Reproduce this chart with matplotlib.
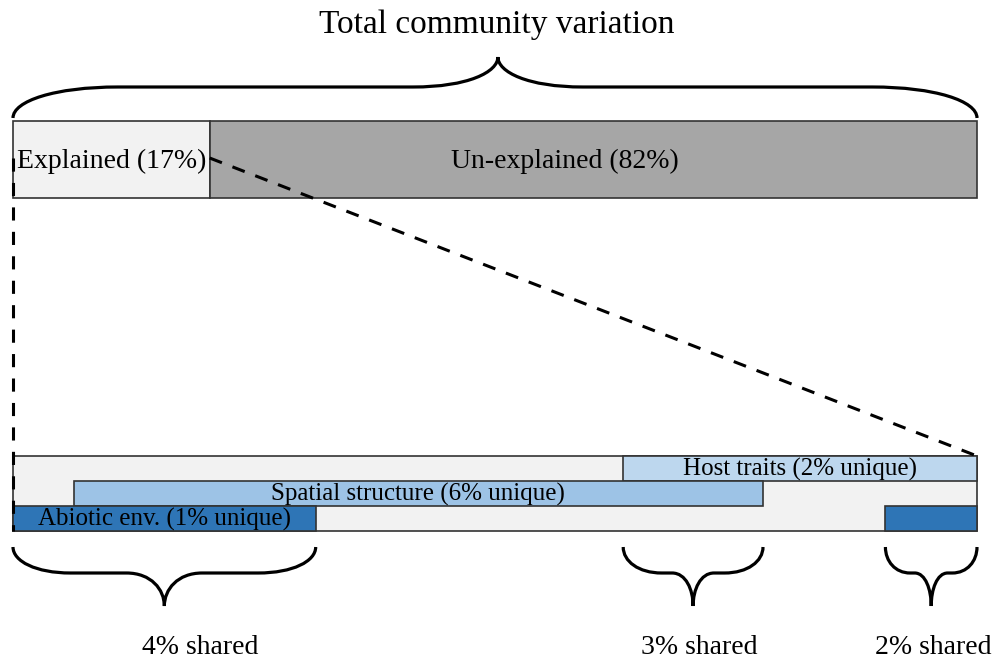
import matplotlib
matplotlib.use("Agg")
import matplotlib.pyplot as plt
from matplotlib.patches import Rectangle, PathPatch
from matplotlib.path import Path

plt.rcParams['font.family'] = ['Liberation Serif', 'DejaVu Serif']

# ---- data (percent of bar width) ----
title = "Total community variation"
top_labels = ["Explained (17%)", "Un-explained (82%)"]
top_bounds = [0, 20.4, 100]
top_colors = ["#f2f2f2", "#a6a6a6"]

comp_labels = ["Host traits (2% unique)", "Spatial structure (6% unique)", "Abiotic env. (1% unique)"]
comp_starts = [63.3, 6.3, 0.0]
comp_ends = [100.0, 77.8, 31.4]
comp_colors = ["#bdd7ee", "#9dc3e6", "#2e75b6"]
extra_start = [90.5]
extra_end = [100.0]

shared_labels = ["4% shared", "3% shared", "2% shared"]
shared_starts = [0.0, 63.3, 90.5]
shared_ends = [31.4, 77.8, 100.0]
shared_label_x = [19.4, 71.2, 95.5]

W, H = 998, 662
fig = plt.figure(figsize=(W / 100, H / 100), dpi=100)
ax = fig.add_axes([0, 0, 1, 1])
px = 9.64  # pixels per percent unit
ax.set_xlim(-13 / px, (W - 13) / px)
ax.set_ylim(H, 0)
ax.axis('off')

edge = "#333333"

# top bar
top_y0, top_y1 = 121, 198
for i, lab in enumerate(top_labels):
    x0, x1 = top_bounds[i], top_bounds[i + 1]
    ax.add_patch(Rectangle((x0, top_y0), x1 - x0, top_y1 - top_y0,
                           facecolor=top_colors[i], edgecolor=edge, lw=1.2, zorder=2))
xs_text = [(top_bounds[0] + top_bounds[1]) / 2, (top_bounds[1] + top_bounds[2]) / 2 - 3.0]
for lab, xt in zip(top_labels, xs_text):
    ax.text(xt, 161, lab, ha='center', va='center', fontsize=20, zorder=5)

# bottom bar
rows = [(456, 481), (481, 506), (506, 531)]
ax.add_patch(Rectangle((0, 456), 100, 75, facecolor="#f2f2f2", edgecolor=edge, lw=1.2, zorder=2))
for lab, s, e, c, (y0, y1) in zip(comp_labels, comp_starts, comp_ends, comp_colors, rows):
    ax.add_patch(Rectangle((s, y0), e - s, y1 - y0, facecolor=c, edgecolor=edge, lw=1.2, zorder=3))
    ax.text((s + e) / 2, (y0 + y1) / 2 + 1, lab, ha='center', va='center', fontsize=18, zorder=5)
for s, e in zip(extra_start, extra_end):
    y0, y1 = rows[2]
    ax.add_patch(Rectangle((s, y0), e - s, y1 - y0, facecolor=comp_colors[2], edgecolor=edge, lw=1.2, zorder=3))

# dashed zoom lines
dash = (0, (4.3, 3.7))
ax.plot([top_bounds[1], 100], [158, 456], ls=dash, color='black', lw=2.2, zorder=4)
ax.plot([0, 0], [158, 531], ls=dash, color='black', lw=2.2, zorder=4)

KE_V, KE_H = 0.55, 0.6   # end-arc handles
KT_H, KT_V = 0.65, 0.5   # tip-arc handles


def brace(x0, x1, y_end, ym, y_tip, r_end, r_mid, xc=None):
    if xc is None:
        xc = (x0 + x1) / 2
    hv = ym - y_end
    ht = y_tip - ym
    verts = [(x0, y_end),
             (x0, y_end + KE_V * hv), (x0 + r_end * (1 - KE_H), ym), (x0 + r_end, ym),
             (xc - r_mid, ym),
             (xc - r_mid * (1 - KT_H), ym), (xc, y_tip - ht * KT_V), (xc, y_tip),
             (xc, y_tip - ht * KT_V), (xc + r_mid * (1 - KT_H), ym), (xc + r_mid, ym),
             (x1 - r_end, ym),
             (x1 - r_end * (1 - KE_H), ym), (x1, y_end + KE_V * hv), (x1, y_end)]
    codes = [Path.MOVETO,
             Path.CURVE4, Path.CURVE4, Path.CURVE4,
             Path.LINETO,
             Path.CURVE4, Path.CURVE4, Path.CURVE4,
             Path.CURVE4, Path.CURVE4, Path.CURVE4,
             Path.LINETO,
             Path.CURVE4, Path.CURVE4, Path.CURVE4]
    ax.add_patch(PathPatch(Path(verts, codes), facecolor='none', edgecolor='black',
                           lw=2.3, zorder=4, capstyle='butt'))


# top brace
brace(0, 100, 118, 87, 57, 105 / px, 85 / px, xc=50.3)
ax.text(50.2, 25, title, ha='center', va='center', fontsize=24)

# bottom braces
end_frac = [0.38, 0.55, 0.54]
mid_frac = [0.25, 0.3, 0.36]
for lab, s, e, lx, fe, fm in zip(shared_labels, shared_starts, shared_ends, shared_label_x, end_frac, mid_frac):
    half = (e - s) / 2
    brace(s, e, 547, 573, 606, half * fe, half * fm)
    ax.text(lx, 647, lab, ha='center', va='center', fontsize=20)

fig.savefig("out.png", dpi=100)
